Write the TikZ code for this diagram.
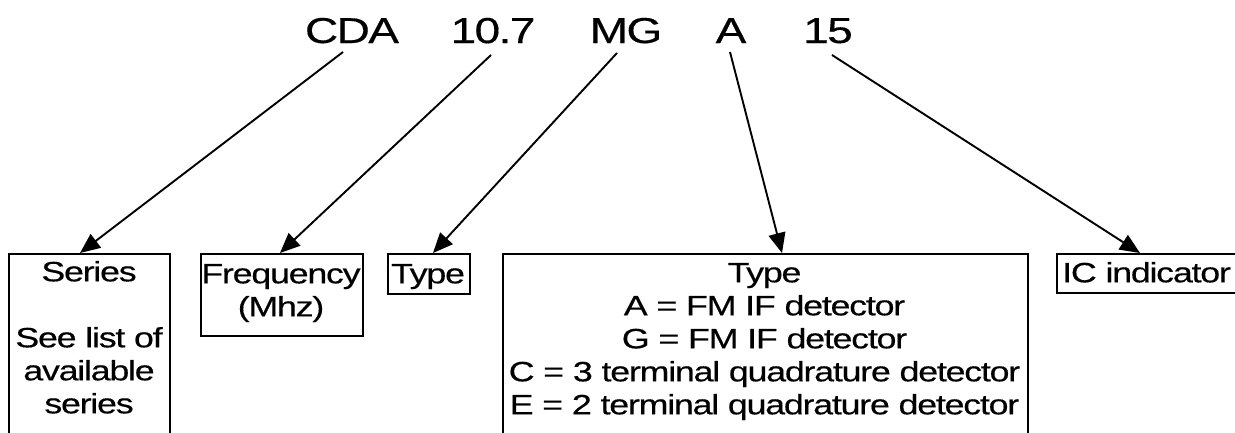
\documentclass[tikz,border=0pt]{standalone}
\usepackage{fontspec}
\setmainfont{Liberation Sans}
\newfontfamily\stretchfont[FakeStretch=1.28,LetterSpace=-4.5,FakeBold=0.4]{Liberation Sans}
\usetikzlibrary{arrows.meta}
\tikzset{
  x=1pt, y=-1pt,
  topword/.style={inner sep=0pt, anchor=base, font=\stretchfont\fontsize{36}{40}\selectfont},
  boxframe/.style={draw, line width=2pt, inner sep=0pt, anchor=north west},
  boxtext/.style={inner sep=0pt, anchor=north, align=center, font=\stretchfont\fontsize{28}{33}\selectfont},
  pointer/.style={line width=1.9pt, -{Triangle[length=20pt,width=17pt]}}
}
\begin{document}
\begin{tikzpicture}
\useasboundingbox (0,0) rectangle (1235,432);
\clip (0,0) rectangle (1235,432);
% top code
\node[topword] (cda) at (352,43) {CDA};
\node[topword] (freq) at (493,43) {10.7};
\node[topword] (mg) at (626,43) {MG};
\node[topword] (a) at (731,43) {A};
\node[topword] (num) at (828,43) {15};
% boxes
\node[boxframe, minimum width=161pt, minimum height=220pt] (series) at (8,253) {};
\node[boxframe, minimum width=162pt, minimum height=82pt] (freqbox) at (200,253) {};
\node[boxframe, minimum width=82pt, minimum height=40pt] (typebox) at (387,253) {};
\node[boxframe, minimum width=525pt, minimum height=220pt] (bigbox) at (502,253) {};
\node[boxframe, minimum width=220pt, minimum height=39pt] (icbox) at (1056,253) {};
% box texts
\node[boxtext] (seriestext) at (89,258) {\strut Series\\[33pt]See list of\\available\\series};
\node[boxtext] (freqtext) at (281,260) {\strut Frequency\\(Mhz)};
\node[boxtext] (typetext) at (428,260) {\strut Type};
\node[boxtext] (bigtext) at (764.5,259) {\strut Type\\A = FM IF detector\\G = FM IF detector\\C = 3 terminal quadrature detector\\E = 2 terminal quadrature detector};
\node[boxtext, anchor=north west] (ictext) at (1062,259) {\strut IC indicator};
% connector ends
\coordinate (s1) at (343,52);
\coordinate (s2) at (491,55);
\coordinate (s3) at (617,53);
\coordinate (s4) at (730,52);
\coordinate (s5) at (832,55);
\path (series.north west) ++(72,0) coordinate (e1);
\path (freqbox.north west) ++(80,0) coordinate (e2);
\path (typebox.north west) ++(46,0) coordinate (e3);
\path (bigbox.north west) ++(280,0) coordinate (e4);
\path (icbox.north west) ++(84,0) coordinate (e5);
\draw[pointer] (s1) -- (e1);
\draw[pointer] (s2) -- (e2);
\draw[pointer] (s3) -- (e3);
\draw[pointer] (s4) -- (e4);
\draw[pointer] (s5) -- (e5);
\end{tikzpicture}
\end{document}
